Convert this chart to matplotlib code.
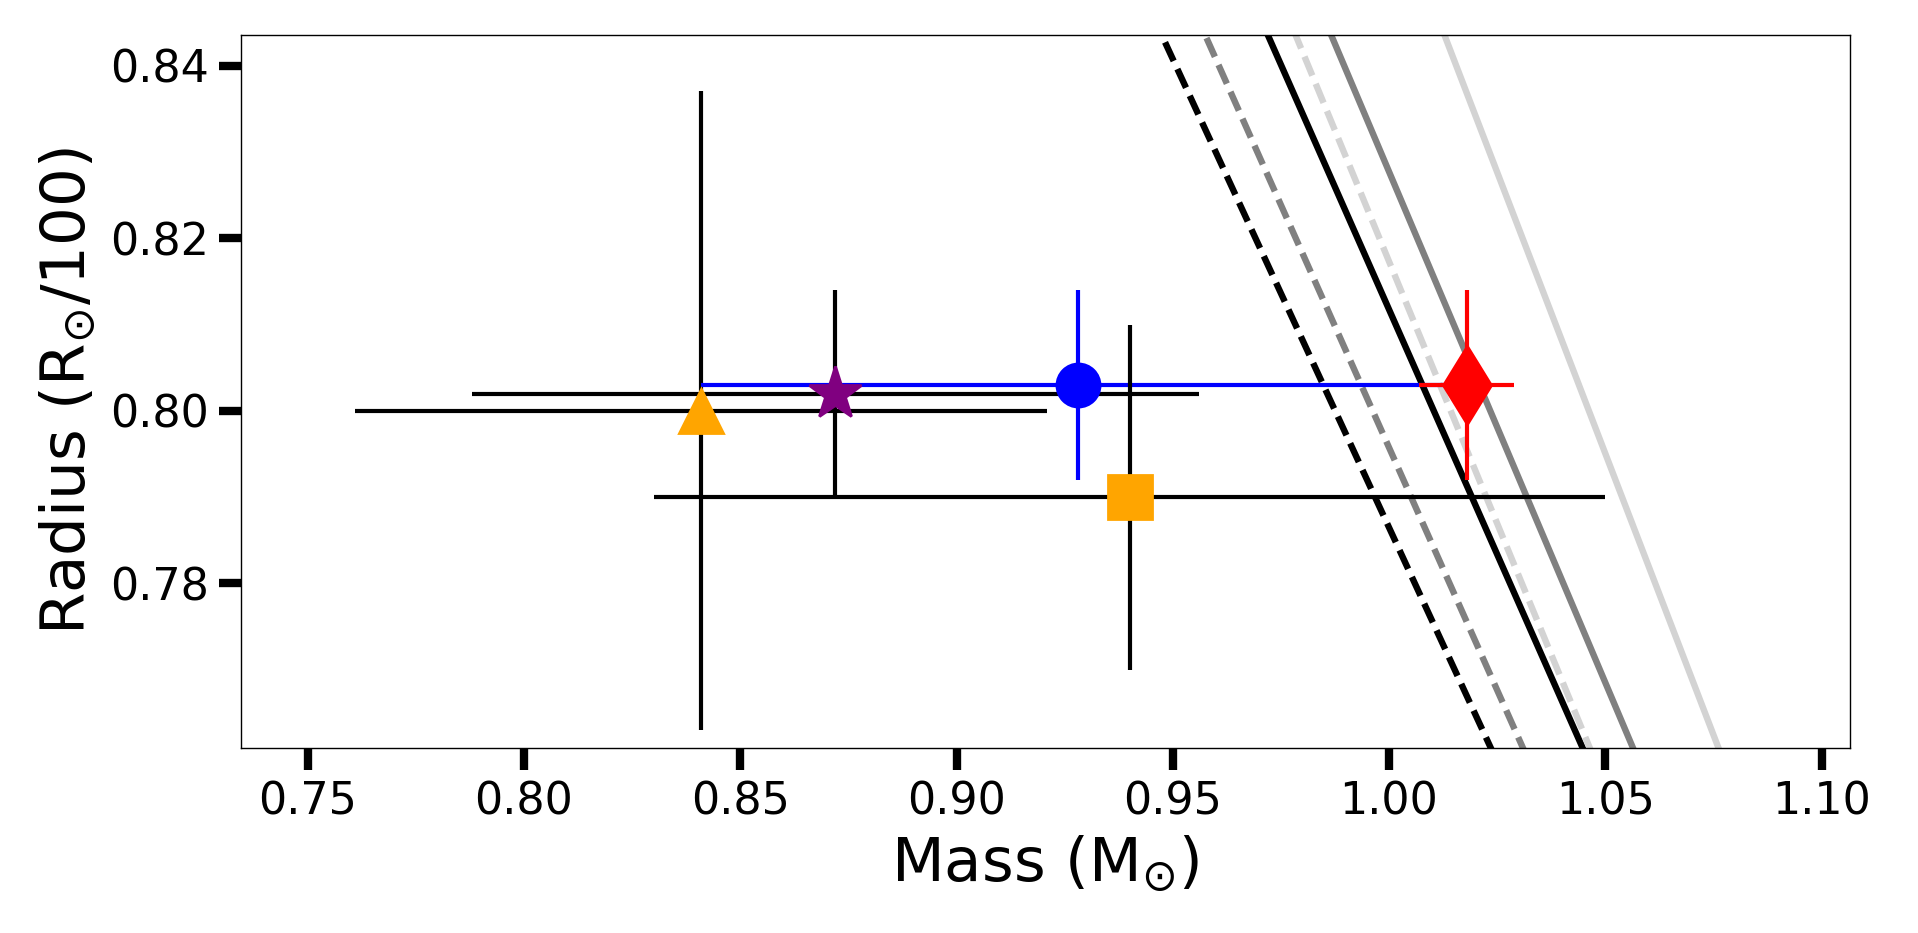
import matplotlib.pyplot as plt

# observed stars: mass (M_sun) and radius (R_sun/100) with symmetric errors
star_mass = [0.841, 0.872, 0.928, 0.940, 1.018]
star_mass_err = [0.080, 0.084, 0.087, 0.110, 0.011]
star_radius = [0.800, 0.802, 0.803, 0.790, 0.803]
star_radius_err = [0.037, 0.012, 0.011, 0.020, 0.011]

# model tracks: mass at the two radius end points
track_radius = [0.760, 0.845]
track_mass = [
    [1.0244, 0.9461],
    [1.0318, 0.9562],
    [1.0456, 0.9707],
    [1.0472, 0.9772],
    [1.0572, 0.9854],
    [1.0769, 1.0117],
]

x_ticks = [0.75, 0.80, 0.85, 0.90, 0.95, 1.00, 1.05, 1.10]
y_ticks = [0.78, 0.80, 0.82, 0.84]

# styles
track_colors = ["black", "gray", "black", "lightgray", "gray", "lightgray"]
track_styles = ["--", "--", "-", "--", "-", "-"]
star_markers = ["^", "*", "o", "s", "d"]
star_colors = ["orange", "purple", "blue", "orange", "red"]
bar_colors = ["black", "black", "blue", "black", "red"]
marker_sizes = [15.5, 20, 15.5, 15.5, 20]

# keep the dash pattern of a 2pt line while drawing slightly thicker
plt.rcParams["lines.scale_dashes"] = False

fig = plt.figure(figsize=(9.59, 4.665), dpi=200)
ax = fig.add_axes([0.1255, 0.198, 0.8393, 0.765])

for m, c, ls in zip(track_mass, track_colors, track_styles):
    line, = ax.plot(m, track_radius, color=c, ls=ls, lw=2.3, zorder=1)
    if ls == "--":
        line.set_dashes((7.4, 3.2))

for i in range(len(star_mass)):
    ax.errorbar(star_mass[i], star_radius[i],
                xerr=star_mass_err[i], yerr=star_radius_err[i],
                marker=star_markers[i], ms=marker_sizes[i],
                mfc=star_colors[i], mec=star_colors[i],
                ecolor=bar_colors[i], elinewidth=1.5, capsize=0, ls="none")

ax.set_xlim(0.7345, 1.1067)
ax.set_ylim(0.7609, 0.8436)
ax.set_xticks(x_ticks)
ax.set_yticks(y_ticks)
ax.tick_params(axis="both", which="major", direction="out", length=8, width=3,
               labelsize=16, top=False, right=False)
for s in ax.spines.values():
    s.set_linewidth(0.5)

ax.set_xlabel(r"Mass (M$_{\odot}$)", fontsize=22)
ax.set_ylabel(r"Radius (R$_{\odot}$/100)", fontsize=22)

fig.savefig("out.png", dpi=200)
